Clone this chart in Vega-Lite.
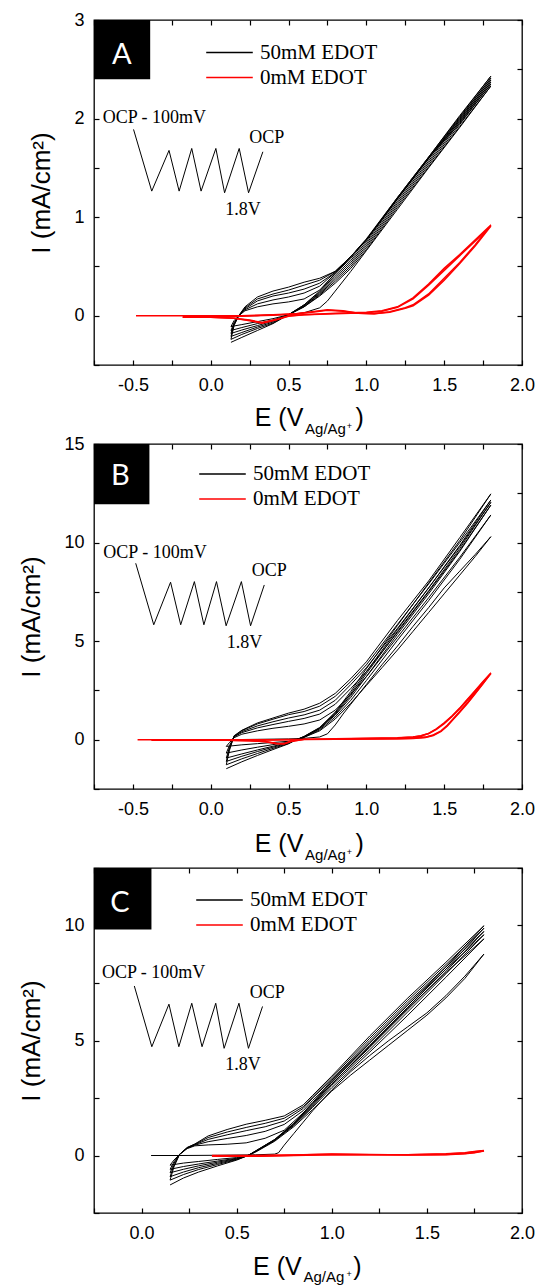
{
"$schema":"https://vega.github.io/schema/vega-lite/v6.json",
"background":"white",
"padding":{"left":18,"top":10,"right":0,"bottom":0},
"bounds":"flush",
"spacing":79,
"resolve":{"scale":{"color":"independent"},"legend":{"color":"independent"}},
"config":{
"font":"Liberation Sans",
"view":{"stroke":"#000000","strokeWidth":1.3},
"axis":{"grid":false,"domain":false,"tickColor":"#000000","tickWidth":1.2,"tickSize":-5,"labelFont":"Liberation Sans","labelFontSize":18,"labelColor":"#000000","labelFlush":false,"labelOverlap":false,"titleFont":"Liberation Sans","titleFontSize":26,"titleFontWeight":"normal","titleColor":"#000000","titlePadding":19},
"axisBottom":{"labelPadding":16},
"axisLeft":{"labelPadding":15},
"legend":{"title":null,"symbolType":"M-1.75,0H1.75","symbolSize":708,"symbolStrokeWidth":1.4,"labelFont":"Liberation Serif","labelFontSize":21,"labelColor":"#000000","labelOffset":16,"rowPadding":0,"padding":0,"labelLimit":300}
},
"datasets":{
"A_cv":[
{"s":"50mM EDOT","c":1,"E":0.2,"I":0},{"s":"50mM EDOT","c":1,"E":0.3,"I":0},{"s":"50mM EDOT","c":1,"E":0.4,"I":0.01},{"s":"50mM EDOT","c":1,"E":0.5,"I":0.01},{"s":"50mM EDOT","c":1,"E":0.6,"I":0.03},{"s":"50mM EDOT","c":1,"E":0.7,"I":0.08},{"s":"50mM EDOT","c":1,"E":0.75,"I":0.15},{"s":"50mM EDOT","c":1,"E":0.8,"I":0.25},{"s":"50mM EDOT","c":1,"E":0.9,"I":0.45},{"s":"50mM EDOT","c":1,"E":1.0,"I":0.66},{"s":"50mM EDOT","c":1,"E":1.2,"I":1.08},{"s":"50mM EDOT","c":1,"E":1.4,"I":1.5},{"s":"50mM EDOT","c":1,"E":1.6,"I":1.91},{"s":"50mM EDOT","c":1,"E":1.8,"I":2.33},
{"s":"50mM EDOT","c":1,"E":1.6,"I":1.92},{"s":"50mM EDOT","c":1,"E":1.4,"I":1.51},{"s":"50mM EDOT","c":1,"E":1.2,"I":1.1},{"s":"50mM EDOT","c":1,"E":1.0,"I":0.67},{"s":"50mM EDOT","c":1,"E":0.9,"I":0.48},{"s":"50mM EDOT","c":1,"E":0.8,"I":0.33},{"s":"50mM EDOT","c":1,"E":0.7,"I":0.2},{"s":"50mM EDOT","c":1,"E":0.6,"I":0.09},{"s":"50mM EDOT","c":1,"E":0.5,"I":0.01},{"s":"50mM EDOT","c":1,"E":0.4,"I":-0.03},{"s":"50mM EDOT","c":1,"E":0.3,"I":-0.06},{"s":"50mM EDOT","c":1,"E":0.2,"I":-0.09},{"s":"50mM EDOT","c":1,"E":0.13,"I":-0.11},
{"s":"50mM EDOT","c":2,"E":0.13,"I":-0.11},{"s":"50mM EDOT","c":2,"E":0.15,"I":-0.05},{"s":"50mM EDOT","c":2,"E":0.18,"I":0},{"s":"50mM EDOT","c":2,"E":0.22,"I":0.05},{"s":"50mM EDOT","c":2,"E":0.3,"I":0.09},{"s":"50mM EDOT","c":2,"E":0.4,"I":0.12},{"s":"50mM EDOT","c":2,"E":0.5,"I":0.14},{"s":"50mM EDOT","c":2,"E":0.6,"I":0.17},{"s":"50mM EDOT","c":2,"E":0.7,"I":0.26},{"s":"50mM EDOT","c":2,"E":0.8,"I":0.43},{"s":"50mM EDOT","c":2,"E":0.9,"I":0.6},{"s":"50mM EDOT","c":2,"E":1.0,"I":0.77},{"s":"50mM EDOT","c":2,"E":1.2,"I":1.19},{"s":"50mM EDOT","c":2,"E":1.4,"I":1.6},{"s":"50mM EDOT","c":2,"E":1.6,"I":1.95},{"s":"50mM EDOT","c":2,"E":1.8,"I":2.35},
{"s":"50mM EDOT","c":2,"E":1.6,"I":1.94},{"s":"50mM EDOT","c":2,"E":1.4,"I":1.53},{"s":"50mM EDOT","c":2,"E":1.2,"I":1.12},{"s":"50mM EDOT","c":2,"E":1.0,"I":0.69},{"s":"50mM EDOT","c":2,"E":0.9,"I":0.5},{"s":"50mM EDOT","c":2,"E":0.8,"I":0.35},{"s":"50mM EDOT","c":2,"E":0.7,"I":0.21},{"s":"50mM EDOT","c":2,"E":0.6,"I":0.09},{"s":"50mM EDOT","c":2,"E":0.5,"I":0.01},{"s":"50mM EDOT","c":2,"E":0.4,"I":-0.045},{"s":"50mM EDOT","c":2,"E":0.3,"I":-0.08},{"s":"50mM EDOT","c":2,"E":0.2,"I":-0.12},{"s":"50mM EDOT","c":2,"E":0.13,"I":-0.15},
{"s":"50mM EDOT","c":3,"E":0.13,"I":-0.15},{"s":"50mM EDOT","c":3,"E":0.15,"I":-0.07},{"s":"50mM EDOT","c":3,"E":0.18,"I":0},{"s":"50mM EDOT","c":3,"E":0.22,"I":0.06},{"s":"50mM EDOT","c":3,"E":0.3,"I":0.12},{"s":"50mM EDOT","c":3,"E":0.4,"I":0.16},{"s":"50mM EDOT","c":3,"E":0.5,"I":0.19},{"s":"50mM EDOT","c":3,"E":0.6,"I":0.23},{"s":"50mM EDOT","c":3,"E":0.7,"I":0.3},{"s":"50mM EDOT","c":3,"E":0.8,"I":0.44},{"s":"50mM EDOT","c":3,"E":0.9,"I":0.6},{"s":"50mM EDOT","c":3,"E":1.0,"I":0.77},{"s":"50mM EDOT","c":3,"E":1.2,"I":1.19},{"s":"50mM EDOT","c":3,"E":1.4,"I":1.6},{"s":"50mM EDOT","c":3,"E":1.6,"I":1.97},{"s":"50mM EDOT","c":3,"E":1.8,"I":2.37},
{"s":"50mM EDOT","c":3,"E":1.6,"I":1.96},{"s":"50mM EDOT","c":3,"E":1.4,"I":1.55},{"s":"50mM EDOT","c":3,"E":1.2,"I":1.14},{"s":"50mM EDOT","c":3,"E":1.0,"I":0.71},{"s":"50mM EDOT","c":3,"E":0.9,"I":0.52},{"s":"50mM EDOT","c":3,"E":0.8,"I":0.37},{"s":"50mM EDOT","c":3,"E":0.7,"I":0.22},{"s":"50mM EDOT","c":3,"E":0.6,"I":0.1},{"s":"50mM EDOT","c":3,"E":0.5,"I":0.01},{"s":"50mM EDOT","c":3,"E":0.4,"I":-0.055},{"s":"50mM EDOT","c":3,"E":0.3,"I":-0.1},{"s":"50mM EDOT","c":3,"E":0.2,"I":-0.145},{"s":"50mM EDOT","c":3,"E":0.13,"I":-0.18},
{"s":"50mM EDOT","c":4,"E":0.13,"I":-0.18},{"s":"50mM EDOT","c":4,"E":0.15,"I":-0.08},{"s":"50mM EDOT","c":4,"E":0.18,"I":0},{"s":"50mM EDOT","c":4,"E":0.22,"I":0.07},{"s":"50mM EDOT","c":4,"E":0.3,"I":0.15},{"s":"50mM EDOT","c":4,"E":0.4,"I":0.2},{"s":"50mM EDOT","c":4,"E":0.5,"I":0.23},{"s":"50mM EDOT","c":4,"E":0.6,"I":0.27},{"s":"50mM EDOT","c":4,"E":0.7,"I":0.33},{"s":"50mM EDOT","c":4,"E":0.8,"I":0.44},{"s":"50mM EDOT","c":4,"E":0.9,"I":0.6},{"s":"50mM EDOT","c":4,"E":1.0,"I":0.77},{"s":"50mM EDOT","c":4,"E":1.2,"I":1.19},{"s":"50mM EDOT","c":4,"E":1.4,"I":1.6},{"s":"50mM EDOT","c":4,"E":1.6,"I":1.99},{"s":"50mM EDOT","c":4,"E":1.8,"I":2.39},
{"s":"50mM EDOT","c":4,"E":1.6,"I":1.98},{"s":"50mM EDOT","c":4,"E":1.4,"I":1.57},{"s":"50mM EDOT","c":4,"E":1.2,"I":1.16},{"s":"50mM EDOT","c":4,"E":1.0,"I":0.73},{"s":"50mM EDOT","c":4,"E":0.9,"I":0.54},{"s":"50mM EDOT","c":4,"E":0.8,"I":0.39},{"s":"50mM EDOT","c":4,"E":0.7,"I":0.23},{"s":"50mM EDOT","c":4,"E":0.6,"I":0.1},{"s":"50mM EDOT","c":4,"E":0.5,"I":0.01},{"s":"50mM EDOT","c":4,"E":0.4,"I":-0.065},{"s":"50mM EDOT","c":4,"E":0.3,"I":-0.115},{"s":"50mM EDOT","c":4,"E":0.2,"I":-0.17},{"s":"50mM EDOT","c":4,"E":0.13,"I":-0.21},
{"s":"50mM EDOT","c":5,"E":0.13,"I":-0.21},{"s":"50mM EDOT","c":5,"E":0.15,"I":-0.09},{"s":"50mM EDOT","c":5,"E":0.18,"I":0},{"s":"50mM EDOT","c":5,"E":0.22,"I":0.08},{"s":"50mM EDOT","c":5,"E":0.3,"I":0.17},{"s":"50mM EDOT","c":5,"E":0.4,"I":0.22},{"s":"50mM EDOT","c":5,"E":0.5,"I":0.26},{"s":"50mM EDOT","c":5,"E":0.6,"I":0.31},{"s":"50mM EDOT","c":5,"E":0.7,"I":0.36},{"s":"50mM EDOT","c":5,"E":0.8,"I":0.45},{"s":"50mM EDOT","c":5,"E":0.9,"I":0.6},{"s":"50mM EDOT","c":5,"E":1.0,"I":0.77},{"s":"50mM EDOT","c":5,"E":1.2,"I":1.19},{"s":"50mM EDOT","c":5,"E":1.4,"I":1.6},{"s":"50mM EDOT","c":5,"E":1.6,"I":2.01},{"s":"50mM EDOT","c":5,"E":1.8,"I":2.41},
{"s":"50mM EDOT","c":5,"E":1.6,"I":2.0},{"s":"50mM EDOT","c":5,"E":1.4,"I":1.59},{"s":"50mM EDOT","c":5,"E":1.2,"I":1.18},{"s":"50mM EDOT","c":5,"E":1.0,"I":0.75},{"s":"50mM EDOT","c":5,"E":0.9,"I":0.56},{"s":"50mM EDOT","c":5,"E":0.8,"I":0.41},{"s":"50mM EDOT","c":5,"E":0.7,"I":0.24},{"s":"50mM EDOT","c":5,"E":0.6,"I":0.11},{"s":"50mM EDOT","c":5,"E":0.5,"I":0.01},{"s":"50mM EDOT","c":5,"E":0.4,"I":-0.075},{"s":"50mM EDOT","c":5,"E":0.3,"I":-0.13},{"s":"50mM EDOT","c":5,"E":0.2,"I":-0.19},{"s":"50mM EDOT","c":5,"E":0.13,"I":-0.24},
{"s":"50mM EDOT","c":6,"E":0.13,"I":-0.24},{"s":"50mM EDOT","c":6,"E":0.15,"I":-0.1},{"s":"50mM EDOT","c":6,"E":0.18,"I":0},{"s":"50mM EDOT","c":6,"E":0.22,"I":0.09},{"s":"50mM EDOT","c":6,"E":0.3,"I":0.19},{"s":"50mM EDOT","c":6,"E":0.4,"I":0.25},{"s":"50mM EDOT","c":6,"E":0.5,"I":0.29},{"s":"50mM EDOT","c":6,"E":0.6,"I":0.34},{"s":"50mM EDOT","c":6,"E":0.7,"I":0.38},{"s":"50mM EDOT","c":6,"E":0.8,"I":0.45},{"s":"50mM EDOT","c":6,"E":0.9,"I":0.6},{"s":"50mM EDOT","c":6,"E":1.0,"I":0.78},{"s":"50mM EDOT","c":6,"E":1.2,"I":1.2},{"s":"50mM EDOT","c":6,"E":1.4,"I":1.61},{"s":"50mM EDOT","c":6,"E":1.6,"I":2.03},{"s":"50mM EDOT","c":6,"E":1.8,"I":2.43},
{"s":"50mM EDOT","c":6,"E":1.6,"I":2.02},{"s":"50mM EDOT","c":6,"E":1.4,"I":1.61},{"s":"50mM EDOT","c":6,"E":1.2,"I":1.2},{"s":"50mM EDOT","c":6,"E":1.0,"I":0.77},{"s":"50mM EDOT","c":6,"E":0.9,"I":0.58},{"s":"50mM EDOT","c":6,"E":0.8,"I":0.43},{"s":"50mM EDOT","c":6,"E":0.7,"I":0.25},{"s":"50mM EDOT","c":6,"E":0.6,"I":0.11},{"s":"50mM EDOT","c":6,"E":0.5,"I":0.01},{"s":"50mM EDOT","c":6,"E":0.4,"I":-0.08},{"s":"50mM EDOT","c":6,"E":0.3,"I":-0.15},{"s":"50mM EDOT","c":6,"E":0.2,"I":-0.22},{"s":"50mM EDOT","c":6,"E":0.13,"I":-0.27},
{"s":"0mM EDOT","c":11,"E":-0.48,"I":0},{"s":"0mM EDOT","c":11,"E":-0.2,"I":0},{"s":"0mM EDOT","c":11,"E":0,"I":0},{"s":"0mM EDOT","c":11,"E":0.2,"I":0},{"s":"0mM EDOT","c":11,"E":0.4,"I":0.01},{"s":"0mM EDOT","c":11,"E":0.55,"I":0.02},{"s":"0mM EDOT","c":11,"E":0.65,"I":0.04},{"s":"0mM EDOT","c":11,"E":0.75,"I":0.06},{"s":"0mM EDOT","c":11,"E":0.85,"I":0.05},{"s":"0mM EDOT","c":11,"E":0.95,"I":0.025},{"s":"0mM EDOT","c":11,"E":1.05,"I":0.02},{"s":"0mM EDOT","c":11,"E":1.15,"I":0.04},{"s":"0mM EDOT","c":11,"E":1.25,"I":0.08},{"s":"0mM EDOT","c":11,"E":1.3,"I":0.11},{"s":"0mM EDOT","c":11,"E":1.4,"I":0.22},{"s":"0mM EDOT","c":11,"E":1.5,"I":0.38},{"s":"0mM EDOT","c":11,"E":1.6,"I":0.54},{"s":"0mM EDOT","c":11,"E":1.7,"I":0.72},{"s":"0mM EDOT","c":11,"E":1.8,"I":0.92},
{"s":"0mM EDOT","c":11,"E":1.7,"I":0.77},{"s":"0mM EDOT","c":11,"E":1.6,"I":0.62},{"s":"0mM EDOT","c":11,"E":1.5,"I":0.48},{"s":"0mM EDOT","c":11,"E":1.4,"I":0.32},{"s":"0mM EDOT","c":11,"E":1.3,"I":0.18},{"s":"0mM EDOT","c":11,"E":1.2,"I":0.09},{"s":"0mM EDOT","c":11,"E":1.1,"I":0.05},{"s":"0mM EDOT","c":11,"E":1.0,"I":0.035},{"s":"0mM EDOT","c":11,"E":0.8,"I":0.025},{"s":"0mM EDOT","c":11,"E":0.6,"I":0.01},{"s":"0mM EDOT","c":11,"E":0.5,"I":0},{"s":"0mM EDOT","c":11,"E":0.42,"I":-0.04},{"s":"0mM EDOT","c":11,"E":0.33,"I":-0.075},{"s":"0mM EDOT","c":11,"E":0.25,"I":-0.05},{"s":"0mM EDOT","c":11,"E":0.15,"I":-0.025},{"s":"0mM EDOT","c":11,"E":0,"I":-0.015},{"s":"0mM EDOT","c":11,"E":-0.18,"I":-0.015},
{"s":"0mM EDOT","c":12,"E":-0.18,"I":-0.015},{"s":"0mM EDOT","c":12,"E":0,"I":-0.01},{"s":"0mM EDOT","c":12,"E":0.2,"I":-0.005},{"s":"0mM EDOT","c":12,"E":0.4,"I":0.005},{"s":"0mM EDOT","c":12,"E":0.55,"I":0.02},{"s":"0mM EDOT","c":12,"E":0.65,"I":0.035},{"s":"0mM EDOT","c":12,"E":0.75,"I":0.055},{"s":"0mM EDOT","c":12,"E":0.85,"I":0.045},{"s":"0mM EDOT","c":12,"E":0.95,"I":0.025},{"s":"0mM EDOT","c":12,"E":1.05,"I":0.02},{"s":"0mM EDOT","c":12,"E":1.15,"I":0.035},{"s":"0mM EDOT","c":12,"E":1.25,"I":0.075},{"s":"0mM EDOT","c":12,"E":1.3,"I":0.1},{"s":"0mM EDOT","c":12,"E":1.4,"I":0.21},{"s":"0mM EDOT","c":12,"E":1.5,"I":0.36},{"s":"0mM EDOT","c":12,"E":1.6,"I":0.53},{"s":"0mM EDOT","c":12,"E":1.7,"I":0.71},{"s":"0mM EDOT","c":12,"E":1.8,"I":0.91},
{"s":"0mM EDOT","c":12,"E":1.7,"I":0.76},{"s":"0mM EDOT","c":12,"E":1.6,"I":0.61},{"s":"0mM EDOT","c":12,"E":1.5,"I":0.46},{"s":"0mM EDOT","c":12,"E":1.4,"I":0.31},{"s":"0mM EDOT","c":12,"E":1.3,"I":0.17},{"s":"0mM EDOT","c":12,"E":1.2,"I":0.085},{"s":"0mM EDOT","c":12,"E":1.1,"I":0.045},{"s":"0mM EDOT","c":12,"E":1.0,"I":0.03},{"s":"0mM EDOT","c":12,"E":0.8,"I":0.02},{"s":"0mM EDOT","c":12,"E":0.6,"I":0.01},{"s":"0mM EDOT","c":12,"E":0.5,"I":-0.005},{"s":"0mM EDOT","c":12,"E":0.42,"I":-0.04},{"s":"0mM EDOT","c":12,"E":0.33,"I":-0.07},{"s":"0mM EDOT","c":12,"E":0.25,"I":-0.045},{"s":"0mM EDOT","c":12,"E":0.15,"I":-0.025},{"s":"0mM EDOT","c":12,"E":0,"I":-0.015},{"s":"0mM EDOT","c":12,"E":-0.18,"I":-0.015}
],
"A_zz":[{"E":-0.496,"I":1.89},{"E":-0.379,"I":1.264},{"E":-0.268,"I":1.677},{"E":-0.203,"I":1.264},{"E":-0.122,"I":1.697},{"E":-0.062,"I":1.264},{"E":0.033,"I":1.697},{"E":0.089,"I":1.247},{"E":0.183,"I":1.697},{"E":0.243,"I":1.247},{"E":0.335,"I":1.663}],
"A_box":[{"E":-0.75,"E2":-0.389,"I":3,"I2":2.398}],
"A_tx":[{"k":"ins","E":-0.694,"I":1.957,"t":"OCP - 100mV"},{"k":"ins","E":0.248,"I":1.754,"t":"OCP"},{"k":"ins","E":0.093,"I":1.024,"t":"1.8V"},{"k":"let","E":-0.571,"I":2.556,"t":"A"},{"k":"tb","E":0.595,"I":-1.122,"t":"E (V"},{"k":"tb","E":0.983,"I":-1.122,"t":")"},{"k":"ts","E":0.606,"I":-1.2,"t":"Ag/Ag"},{"k":"tp","E":0.874,"I":-1.147,"t":"+"}],
"B_cv":[
{"s":"50mM EDOT","c":1,"E":0.1,"I":0},{"s":"50mM EDOT","c":1,"E":0.3,"I":0.02},{"s":"50mM EDOT","c":1,"E":0.5,"I":0.04},{"s":"50mM EDOT","c":1,"E":0.6,"I":0.07},{"s":"50mM EDOT","c":1,"E":0.7,"I":0.14},{"s":"50mM EDOT","c":1,"E":0.75,"I":0.3},{"s":"50mM EDOT","c":1,"E":0.8,"I":0.75},{"s":"50mM EDOT","c":1,"E":0.85,"I":1.3},{"s":"50mM EDOT","c":1,"E":0.9,"I":1.8},{"s":"50mM EDOT","c":1,"E":1.0,"I":2.8},{"s":"50mM EDOT","c":1,"E":1.1,"I":3.8},{"s":"50mM EDOT","c":1,"E":1.2,"I":4.75},{"s":"50mM EDOT","c":1,"E":1.3,"I":5.75},{"s":"50mM EDOT","c":1,"E":1.4,"I":6.7},{"s":"50mM EDOT","c":1,"E":1.5,"I":7.7},{"s":"50mM EDOT","c":1,"E":1.6,"I":8.55},{"s":"50mM EDOT","c":1,"E":1.7,"I":9.4},{"s":"50mM EDOT","c":1,"E":1.8,"I":10.3},
{"s":"50mM EDOT","c":1,"E":1.7,"I":9.3},{"s":"50mM EDOT","c":1,"E":1.6,"I":8.35},{"s":"50mM EDOT","c":1,"E":1.5,"I":7.4},{"s":"50mM EDOT","c":1,"E":1.4,"I":6.45},{"s":"50mM EDOT","c":1,"E":1.3,"I":5.5},{"s":"50mM EDOT","c":1,"E":1.2,"I":4.55},{"s":"50mM EDOT","c":1,"E":1.1,"I":3.65},{"s":"50mM EDOT","c":1,"E":1.0,"I":2.75},{"s":"50mM EDOT","c":1,"E":0.9,"I":1.85},{"s":"50mM EDOT","c":1,"E":0.8,"I":1.05},{"s":"50mM EDOT","c":1,"E":0.7,"I":0.45},{"s":"50mM EDOT","c":1,"E":0.6,"I":0.12},{"s":"50mM EDOT","c":1,"E":0.55,"I":0},{"s":"50mM EDOT","c":1,"E":0.5,"I":-0.08},{"s":"50mM EDOT","c":1,"E":0.4,"I":-0.14},{"s":"50mM EDOT","c":1,"E":0.3,"I":-0.2},{"s":"50mM EDOT","c":1,"E":0.2,"I":-0.26},{"s":"50mM EDOT","c":1,"E":0.1,"I":-0.34},
{"s":"50mM EDOT","c":2,"E":0.1,"I":-0.34},{"s":"50mM EDOT","c":2,"E":0.12,"I":-0.15},{"s":"50mM EDOT","c":2,"E":0.15,"I":0.1},{"s":"50mM EDOT","c":2,"E":0.2,"I":0.28},{"s":"50mM EDOT","c":2,"E":0.3,"I":0.45},{"s":"50mM EDOT","c":2,"E":0.4,"I":0.58},{"s":"50mM EDOT","c":2,"E":0.5,"I":0.68},{"s":"50mM EDOT","c":2,"E":0.6,"I":0.8},{"s":"50mM EDOT","c":2,"E":0.7,"I":1.0},{"s":"50mM EDOT","c":2,"E":0.8,"I":1.5},{"s":"50mM EDOT","c":2,"E":0.9,"I":2.3},{"s":"50mM EDOT","c":2,"E":1.0,"I":3.2},{"s":"50mM EDOT","c":2,"E":1.2,"I":5.2},{"s":"50mM EDOT","c":2,"E":1.4,"I":7.2},{"s":"50mM EDOT","c":2,"E":1.6,"I":9.25},{"s":"50mM EDOT","c":2,"E":1.8,"I":11.4},
{"s":"50mM EDOT","c":2,"E":1.6,"I":9.15},{"s":"50mM EDOT","c":2,"E":1.4,"I":7.05},{"s":"50mM EDOT","c":2,"E":1.2,"I":5.05},{"s":"50mM EDOT","c":2,"E":1.0,"I":3.0},{"s":"50mM EDOT","c":2,"E":0.9,"I":2.0},{"s":"50mM EDOT","c":2,"E":0.8,"I":1.15},{"s":"50mM EDOT","c":2,"E":0.7,"I":0.5},{"s":"50mM EDOT","c":2,"E":0.6,"I":0.13},{"s":"50mM EDOT","c":2,"E":0.55,"I":0},{"s":"50mM EDOT","c":2,"E":0.5,"I":-0.12},{"s":"50mM EDOT","c":2,"E":0.4,"I":-0.25},{"s":"50mM EDOT","c":2,"E":0.3,"I":-0.38},{"s":"50mM EDOT","c":2,"E":0.2,"I":-0.52},{"s":"50mM EDOT","c":2,"E":0.1,"I":-0.68},
{"s":"50mM EDOT","c":3,"E":0.1,"I":-0.68},{"s":"50mM EDOT","c":3,"E":0.12,"I":-0.3},{"s":"50mM EDOT","c":3,"E":0.15,"I":0.14},{"s":"50mM EDOT","c":3,"E":0.2,"I":0.36},{"s":"50mM EDOT","c":3,"E":0.3,"I":0.6},{"s":"50mM EDOT","c":3,"E":0.4,"I":0.77},{"s":"50mM EDOT","c":3,"E":0.5,"I":0.93},{"s":"50mM EDOT","c":3,"E":0.6,"I":1.08},{"s":"50mM EDOT","c":3,"E":0.7,"I":1.3},{"s":"50mM EDOT","c":3,"E":0.8,"I":1.8},{"s":"50mM EDOT","c":3,"E":0.9,"I":2.6},{"s":"50mM EDOT","c":3,"E":1.0,"I":3.45},{"s":"50mM EDOT","c":3,"E":1.2,"I":5.45},{"s":"50mM EDOT","c":3,"E":1.4,"I":7.5},{"s":"50mM EDOT","c":3,"E":1.6,"I":9.6},{"s":"50mM EDOT","c":3,"E":1.8,"I":11.9},
{"s":"50mM EDOT","c":3,"E":1.6,"I":9.55},{"s":"50mM EDOT","c":3,"E":1.4,"I":7.4},{"s":"50mM EDOT","c":3,"E":1.2,"I":5.35},{"s":"50mM EDOT","c":3,"E":1.0,"I":3.2},{"s":"50mM EDOT","c":3,"E":0.9,"I":2.15},{"s":"50mM EDOT","c":3,"E":0.8,"I":1.25},{"s":"50mM EDOT","c":3,"E":0.7,"I":0.55},{"s":"50mM EDOT","c":3,"E":0.6,"I":0.14},{"s":"50mM EDOT","c":3,"E":0.55,"I":0},{"s":"50mM EDOT","c":3,"E":0.5,"I":-0.15},{"s":"50mM EDOT","c":3,"E":0.4,"I":-0.33},{"s":"50mM EDOT","c":3,"E":0.3,"I":-0.52},{"s":"50mM EDOT","c":3,"E":0.2,"I":-0.72},{"s":"50mM EDOT","c":3,"E":0.1,"I":-0.93},
{"s":"50mM EDOT","c":4,"E":0.1,"I":-0.93},{"s":"50mM EDOT","c":4,"E":0.12,"I":-0.4},{"s":"50mM EDOT","c":4,"E":0.15,"I":0.16},{"s":"50mM EDOT","c":4,"E":0.2,"I":0.41},{"s":"50mM EDOT","c":4,"E":0.3,"I":0.7},{"s":"50mM EDOT","c":4,"E":0.4,"I":0.91},{"s":"50mM EDOT","c":4,"E":0.5,"I":1.1},{"s":"50mM EDOT","c":4,"E":0.6,"I":1.26},{"s":"50mM EDOT","c":4,"E":0.7,"I":1.5},{"s":"50mM EDOT","c":4,"E":0.8,"I":2.0},{"s":"50mM EDOT","c":4,"E":0.9,"I":2.8},{"s":"50mM EDOT","c":4,"E":1.0,"I":3.65},{"s":"50mM EDOT","c":4,"E":1.2,"I":5.65},{"s":"50mM EDOT","c":4,"E":1.4,"I":7.7},{"s":"50mM EDOT","c":4,"E":1.6,"I":9.8},{"s":"50mM EDOT","c":4,"E":1.8,"I":12.04},
{"s":"50mM EDOT","c":4,"E":1.6,"I":9.7},{"s":"50mM EDOT","c":4,"E":1.4,"I":7.55},{"s":"50mM EDOT","c":4,"E":1.2,"I":5.5},{"s":"50mM EDOT","c":4,"E":1.0,"I":3.35},{"s":"50mM EDOT","c":4,"E":0.9,"I":2.25},{"s":"50mM EDOT","c":4,"E":0.8,"I":1.3},{"s":"50mM EDOT","c":4,"E":0.7,"I":0.58},{"s":"50mM EDOT","c":4,"E":0.6,"I":0.15},{"s":"50mM EDOT","c":4,"E":0.55,"I":0},{"s":"50mM EDOT","c":4,"E":0.5,"I":-0.17},{"s":"50mM EDOT","c":4,"E":0.4,"I":-0.38},{"s":"50mM EDOT","c":4,"E":0.3,"I":-0.6},{"s":"50mM EDOT","c":4,"E":0.2,"I":-0.84},{"s":"50mM EDOT","c":4,"E":0.1,"I":-1.1},
{"s":"50mM EDOT","c":5,"E":0.1,"I":-1.1},{"s":"50mM EDOT","c":5,"E":0.12,"I":-0.48},{"s":"50mM EDOT","c":5,"E":0.15,"I":0.18},{"s":"50mM EDOT","c":5,"E":0.2,"I":0.46},{"s":"50mM EDOT","c":5,"E":0.3,"I":0.8},{"s":"50mM EDOT","c":5,"E":0.4,"I":1.04},{"s":"50mM EDOT","c":5,"E":0.5,"I":1.27},{"s":"50mM EDOT","c":5,"E":0.6,"I":1.43},{"s":"50mM EDOT","c":5,"E":0.7,"I":1.7},{"s":"50mM EDOT","c":5,"E":0.8,"I":2.2},{"s":"50mM EDOT","c":5,"E":0.9,"I":2.95},{"s":"50mM EDOT","c":5,"E":1.0,"I":3.8},{"s":"50mM EDOT","c":5,"E":1.2,"I":5.85},{"s":"50mM EDOT","c":5,"E":1.4,"I":7.9},{"s":"50mM EDOT","c":5,"E":1.6,"I":10.0},{"s":"50mM EDOT","c":5,"E":1.8,"I":12.16},
{"s":"50mM EDOT","c":5,"E":1.6,"I":9.85},{"s":"50mM EDOT","c":5,"E":1.4,"I":7.7},{"s":"50mM EDOT","c":5,"E":1.2,"I":5.6},{"s":"50mM EDOT","c":5,"E":1.0,"I":3.45},{"s":"50mM EDOT","c":5,"E":0.9,"I":2.35},{"s":"50mM EDOT","c":5,"E":0.8,"I":1.35},{"s":"50mM EDOT","c":5,"E":0.7,"I":0.6},{"s":"50mM EDOT","c":5,"E":0.6,"I":0.16},{"s":"50mM EDOT","c":5,"E":0.55,"I":0},{"s":"50mM EDOT","c":5,"E":0.5,"I":-0.19},{"s":"50mM EDOT","c":5,"E":0.4,"I":-0.44},{"s":"50mM EDOT","c":5,"E":0.3,"I":-0.7},{"s":"50mM EDOT","c":5,"E":0.2,"I":-0.97},{"s":"50mM EDOT","c":5,"E":0.1,"I":-1.27},
{"s":"50mM EDOT","c":6,"E":0.1,"I":-1.27},{"s":"50mM EDOT","c":6,"E":0.12,"I":-0.55},{"s":"50mM EDOT","c":6,"E":0.15,"I":0.2},{"s":"50mM EDOT","c":6,"E":0.2,"I":0.48},{"s":"50mM EDOT","c":6,"E":0.3,"I":0.85},{"s":"50mM EDOT","c":6,"E":0.4,"I":1.1},{"s":"50mM EDOT","c":6,"E":0.5,"I":1.35},{"s":"50mM EDOT","c":6,"E":0.6,"I":1.55},{"s":"50mM EDOT","c":6,"E":0.7,"I":1.85},{"s":"50mM EDOT","c":6,"E":0.8,"I":2.35},{"s":"50mM EDOT","c":6,"E":0.9,"I":3.1},{"s":"50mM EDOT","c":6,"E":1.0,"I":3.95},{"s":"50mM EDOT","c":6,"E":1.2,"I":6.05},{"s":"50mM EDOT","c":6,"E":1.4,"I":8.05},{"s":"50mM EDOT","c":6,"E":1.6,"I":10.25},{"s":"50mM EDOT","c":6,"E":1.8,"I":12.47},
{"s":"50mM EDOT","c":6,"E":1.6,"I":10.1},{"s":"50mM EDOT","c":6,"E":1.4,"I":7.95},{"s":"50mM EDOT","c":6,"E":1.2,"I":5.8},{"s":"50mM EDOT","c":6,"E":1.0,"I":3.6},{"s":"50mM EDOT","c":6,"E":0.9,"I":2.45},{"s":"50mM EDOT","c":6,"E":0.8,"I":1.4},{"s":"50mM EDOT","c":6,"E":0.7,"I":0.62},{"s":"50mM EDOT","c":6,"E":0.6,"I":0.17},{"s":"50mM EDOT","c":6,"E":0.55,"I":0},{"s":"50mM EDOT","c":6,"E":0.5,"I":-0.21},{"s":"50mM EDOT","c":6,"E":0.4,"I":-0.5},{"s":"50mM EDOT","c":6,"E":0.3,"I":-0.8},{"s":"50mM EDOT","c":6,"E":0.2,"I":-1.12},{"s":"50mM EDOT","c":6,"E":0.1,"I":-1.47},
{"s":"0mM EDOT","c":11,"E":-0.47,"I":0},{"s":"0mM EDOT","c":11,"E":0,"I":0},{"s":"0mM EDOT","c":11,"E":0.4,"I":0},{"s":"0mM EDOT","c":11,"E":0.6,"I":0.02},{"s":"0mM EDOT","c":11,"E":0.8,"I":0.03},{"s":"0mM EDOT","c":11,"E":1.0,"I":0.04},{"s":"0mM EDOT","c":11,"E":1.2,"I":0.05},{"s":"0mM EDOT","c":11,"E":1.3,"I":0.07},{"s":"0mM EDOT","c":11,"E":1.38,"I":0.12},{"s":"0mM EDOT","c":11,"E":1.43,"I":0.22},{"s":"0mM EDOT","c":11,"E":1.48,"I":0.42},{"s":"0mM EDOT","c":11,"E":1.52,"I":0.7},{"s":"0mM EDOT","c":11,"E":1.56,"I":1.05},{"s":"0mM EDOT","c":11,"E":1.6,"I":1.4},{"s":"0mM EDOT","c":11,"E":1.65,"I":1.85},{"s":"0mM EDOT","c":11,"E":1.7,"I":2.35},{"s":"0mM EDOT","c":11,"E":1.75,"I":2.85},{"s":"0mM EDOT","c":11,"E":1.8,"I":3.38},
{"s":"0mM EDOT","c":11,"E":1.75,"I":2.95},{"s":"0mM EDOT","c":11,"E":1.7,"I":2.5},{"s":"0mM EDOT","c":11,"E":1.65,"I":2.05},{"s":"0mM EDOT","c":11,"E":1.6,"I":1.6},{"s":"0mM EDOT","c":11,"E":1.55,"I":1.2},{"s":"0mM EDOT","c":11,"E":1.5,"I":0.85},{"s":"0mM EDOT","c":11,"E":1.45,"I":0.55},{"s":"0mM EDOT","c":11,"E":1.4,"I":0.32},{"s":"0mM EDOT","c":11,"E":1.35,"I":0.2},{"s":"0mM EDOT","c":11,"E":1.3,"I":0.14},{"s":"0mM EDOT","c":11,"E":1.2,"I":0.1},{"s":"0mM EDOT","c":11,"E":1.0,"I":0.07},{"s":"0mM EDOT","c":11,"E":0.8,"I":0.05},{"s":"0mM EDOT","c":11,"E":0.6,"I":0.02},{"s":"0mM EDOT","c":11,"E":0.52,"I":-0.08},{"s":"0mM EDOT","c":11,"E":0.47,"I":-0.22},{"s":"0mM EDOT","c":11,"E":0.42,"I":-0.2},{"s":"0mM EDOT","c":11,"E":0.35,"I":-0.1},{"s":"0mM EDOT","c":11,"E":0.25,"I":-0.05},{"s":"0mM EDOT","c":11,"E":0.1,"I":-0.03},{"s":"0mM EDOT","c":11,"E":-0.38,"I":-0.03},
{"s":"0mM EDOT","c":12,"E":-0.38,"I":-0.03},{"s":"0mM EDOT","c":12,"E":0,"I":-0.02},{"s":"0mM EDOT","c":12,"E":0.4,"I":-0.01},{"s":"0mM EDOT","c":12,"E":0.6,"I":0.01},{"s":"0mM EDOT","c":12,"E":0.8,"I":0.03},{"s":"0mM EDOT","c":12,"E":1.0,"I":0.04},{"s":"0mM EDOT","c":12,"E":1.2,"I":0.05},{"s":"0mM EDOT","c":12,"E":1.3,"I":0.08},{"s":"0mM EDOT","c":12,"E":1.38,"I":0.13},{"s":"0mM EDOT","c":12,"E":1.43,"I":0.24},{"s":"0mM EDOT","c":12,"E":1.48,"I":0.45},{"s":"0mM EDOT","c":12,"E":1.52,"I":0.73},{"s":"0mM EDOT","c":12,"E":1.56,"I":1.08},{"s":"0mM EDOT","c":12,"E":1.6,"I":1.43},{"s":"0mM EDOT","c":12,"E":1.65,"I":1.88},{"s":"0mM EDOT","c":12,"E":1.7,"I":2.37},{"s":"0mM EDOT","c":12,"E":1.75,"I":2.86},{"s":"0mM EDOT","c":12,"E":1.8,"I":3.36},
{"s":"0mM EDOT","c":12,"E":1.75,"I":2.92},{"s":"0mM EDOT","c":12,"E":1.7,"I":2.47},{"s":"0mM EDOT","c":12,"E":1.65,"I":2.02},{"s":"0mM EDOT","c":12,"E":1.6,"I":1.58},{"s":"0mM EDOT","c":12,"E":1.55,"I":1.18},{"s":"0mM EDOT","c":12,"E":1.5,"I":0.82},{"s":"0mM EDOT","c":12,"E":1.45,"I":0.53},{"s":"0mM EDOT","c":12,"E":1.4,"I":0.31},{"s":"0mM EDOT","c":12,"E":1.35,"I":0.19},{"s":"0mM EDOT","c":12,"E":1.3,"I":0.13},{"s":"0mM EDOT","c":12,"E":1.2,"I":0.09},{"s":"0mM EDOT","c":12,"E":1.0,"I":0.06},{"s":"0mM EDOT","c":12,"E":0.8,"I":0.04},{"s":"0mM EDOT","c":12,"E":0.6,"I":0.01},{"s":"0mM EDOT","c":12,"E":0.52,"I":-0.07},{"s":"0mM EDOT","c":12,"E":0.47,"I":-0.2},{"s":"0mM EDOT","c":12,"E":0.42,"I":-0.18},{"s":"0mM EDOT","c":12,"E":0.35,"I":-0.09},{"s":"0mM EDOT","c":12,"E":0.25,"I":-0.05},{"s":"0mM EDOT","c":12,"E":0.1,"I":-0.03},{"s":"0mM EDOT","c":12,"E":-0.38,"I":-0.03}
],
"B_zz":[{"E":-0.482,"I":8.95},{"E":-0.366,"I":5.83},{"E":-0.258,"I":7.99},{"E":-0.193,"I":5.83},{"E":-0.105,"I":8.02},{"E":-0.044,"I":5.83},{"E":0.037,"I":8.02},{"E":0.099,"I":5.78},{"E":0.197,"I":8.02},{"E":0.256,"I":5.78},{"E":0.344,"I":7.85}],
"B_box":[{"E":-0.75,"E2":-0.394,"I":15,"I2":11.94}],
"B_tx":[{"k":"ins","E":-0.69,"I":9.24,"t":"OCP - 100mV"},{"k":"ins","E":0.263,"I":8.28,"t":"OCP"},{"k":"ins","E":0.103,"I":4.65,"t":"1.8V"},{"k":"let","E":-0.58,"I":12.92,"t":"B"},{"k":"tb","E":0.595,"I":-5.72,"t":"E (V"},{"k":"tb","E":0.983,"I":-5.72,"t":")"},{"k":"ts","E":0.606,"I":-6.11,"t":"Ag/Ag"},{"k":"tp","E":0.874,"I":-5.85,"t":"+"}],
"C_cv":[
{"s":"50mM EDOT","c":1,"E":0.05,"I":0},{"s":"50mM EDOT","c":1,"E":0.2,"I":0},{"s":"50mM EDOT","c":1,"E":0.4,"I":0.01},{"s":"50mM EDOT","c":1,"E":0.6,"I":0.03},{"s":"50mM EDOT","c":1,"E":0.7,"I":0.06},{"s":"50mM EDOT","c":1,"E":0.72,"I":0.12},{"s":"50mM EDOT","c":1,"E":0.75,"I":0.45},{"s":"50mM EDOT","c":1,"E":0.8,"I":0.95},{"s":"50mM EDOT","c":1,"E":0.85,"I":1.45},{"s":"50mM EDOT","c":1,"E":0.9,"I":1.95},{"s":"50mM EDOT","c":1,"E":1.0,"I":2.85},{"s":"50mM EDOT","c":1,"E":1.1,"I":3.65},{"s":"50mM EDOT","c":1,"E":1.2,"I":4.35},{"s":"50mM EDOT","c":1,"E":1.3,"I":5.0},{"s":"50mM EDOT","c":1,"E":1.4,"I":5.6},{"s":"50mM EDOT","c":1,"E":1.5,"I":6.2},{"s":"50mM EDOT","c":1,"E":1.6,"I":6.95},{"s":"50mM EDOT","c":1,"E":1.7,"I":7.8},{"s":"50mM EDOT","c":1,"E":1.8,"I":8.76},
{"s":"50mM EDOT","c":1,"E":1.7,"I":7.7},{"s":"50mM EDOT","c":1,"E":1.6,"I":6.85},{"s":"50mM EDOT","c":1,"E":1.5,"I":6.1},{"s":"50mM EDOT","c":1,"E":1.4,"I":5.45},{"s":"50mM EDOT","c":1,"E":1.3,"I":4.8},{"s":"50mM EDOT","c":1,"E":1.2,"I":4.15},{"s":"50mM EDOT","c":1,"E":1.1,"I":3.5},{"s":"50mM EDOT","c":1,"E":1.0,"I":2.8},{"s":"50mM EDOT","c":1,"E":0.9,"I":2.0},{"s":"50mM EDOT","c":1,"E":0.8,"I":1.25},{"s":"50mM EDOT","c":1,"E":0.7,"I":0.62},{"s":"50mM EDOT","c":1,"E":0.6,"I":0.15},{"s":"50mM EDOT","c":1,"E":0.56,"I":0},{"s":"50mM EDOT","c":1,"E":0.5,"I":-0.09},{"s":"50mM EDOT","c":1,"E":0.4,"I":-0.17},{"s":"50mM EDOT","c":1,"E":0.3,"I":-0.26},{"s":"50mM EDOT","c":1,"E":0.22,"I":-0.33},{"s":"50mM EDOT","c":1,"E":0.15,"I":-0.42},
{"s":"50mM EDOT","c":2,"E":0.15,"I":-0.42},{"s":"50mM EDOT","c":2,"E":0.17,"I":-0.2},{"s":"50mM EDOT","c":2,"E":0.2,"I":0.05},{"s":"50mM EDOT","c":2,"E":0.24,"I":0.3},{"s":"50mM EDOT","c":2,"E":0.28,"I":0.42},{"s":"50mM EDOT","c":2,"E":0.35,"I":0.46},{"s":"50mM EDOT","c":2,"E":0.45,"I":0.49},{"s":"50mM EDOT","c":2,"E":0.55,"I":0.55},{"s":"50mM EDOT","c":2,"E":0.65,"I":0.75},{"s":"50mM EDOT","c":2,"E":0.75,"I":1.1},{"s":"50mM EDOT","c":2,"E":0.85,"I":1.85},{"s":"50mM EDOT","c":2,"E":0.9,"I":2.3},{"s":"50mM EDOT","c":2,"E":1.0,"I":3.1},{"s":"50mM EDOT","c":2,"E":1.2,"I":4.75},{"s":"50mM EDOT","c":2,"E":1.4,"I":6.4},{"s":"50mM EDOT","c":2,"E":1.6,"I":7.95},{"s":"50mM EDOT","c":2,"E":1.8,"I":9.42},
{"s":"50mM EDOT","c":2,"E":1.6,"I":7.75},{"s":"50mM EDOT","c":2,"E":1.4,"I":6.1},{"s":"50mM EDOT","c":2,"E":1.2,"I":4.5},{"s":"50mM EDOT","c":2,"E":1.0,"I":2.95},{"s":"50mM EDOT","c":2,"E":0.9,"I":2.1},{"s":"50mM EDOT","c":2,"E":0.8,"I":1.3},{"s":"50mM EDOT","c":2,"E":0.7,"I":0.65},{"s":"50mM EDOT","c":2,"E":0.6,"I":0.17},{"s":"50mM EDOT","c":2,"E":0.56,"I":0},{"s":"50mM EDOT","c":2,"E":0.5,"I":-0.12},{"s":"50mM EDOT","c":2,"E":0.4,"I":-0.24},{"s":"50mM EDOT","c":2,"E":0.3,"I":-0.37},{"s":"50mM EDOT","c":2,"E":0.22,"I":-0.48},{"s":"50mM EDOT","c":2,"E":0.15,"I":-0.6},
{"s":"50mM EDOT","c":3,"E":0.15,"I":-0.6},{"s":"50mM EDOT","c":3,"E":0.17,"I":-0.28},{"s":"50mM EDOT","c":3,"E":0.2,"I":0.05},{"s":"50mM EDOT","c":3,"E":0.24,"I":0.32},{"s":"50mM EDOT","c":3,"E":0.28,"I":0.45},{"s":"50mM EDOT","c":3,"E":0.35,"I":0.6},{"s":"50mM EDOT","c":3,"E":0.45,"I":0.74},{"s":"50mM EDOT","c":3,"E":0.55,"I":0.87},{"s":"50mM EDOT","c":3,"E":0.65,"I":1.05},{"s":"50mM EDOT","c":3,"E":0.75,"I":1.35},{"s":"50mM EDOT","c":3,"E":0.85,"I":1.95},{"s":"50mM EDOT","c":3,"E":0.9,"I":2.4},{"s":"50mM EDOT","c":3,"E":1.0,"I":3.2},{"s":"50mM EDOT","c":3,"E":1.2,"I":4.9},{"s":"50mM EDOT","c":3,"E":1.4,"I":6.55},{"s":"50mM EDOT","c":3,"E":1.6,"I":8.1},{"s":"50mM EDOT","c":3,"E":1.8,"I":9.6},
{"s":"50mM EDOT","c":3,"E":1.6,"I":7.9},{"s":"50mM EDOT","c":3,"E":1.4,"I":6.25},{"s":"50mM EDOT","c":3,"E":1.2,"I":4.6},{"s":"50mM EDOT","c":3,"E":1.0,"I":3.05},{"s":"50mM EDOT","c":3,"E":0.9,"I":2.15},{"s":"50mM EDOT","c":3,"E":0.8,"I":1.33},{"s":"50mM EDOT","c":3,"E":0.7,"I":0.67},{"s":"50mM EDOT","c":3,"E":0.6,"I":0.18},{"s":"50mM EDOT","c":3,"E":0.56,"I":0},{"s":"50mM EDOT","c":3,"E":0.5,"I":-0.14},{"s":"50mM EDOT","c":3,"E":0.4,"I":-0.29},{"s":"50mM EDOT","c":3,"E":0.3,"I":-0.45},{"s":"50mM EDOT","c":3,"E":0.22,"I":-0.6},{"s":"50mM EDOT","c":3,"E":0.15,"I":-0.75},
{"s":"50mM EDOT","c":4,"E":0.15,"I":-0.75},{"s":"50mM EDOT","c":4,"E":0.17,"I":-0.35},{"s":"50mM EDOT","c":4,"E":0.2,"I":0.05},{"s":"50mM EDOT","c":4,"E":0.24,"I":0.33},{"s":"50mM EDOT","c":4,"E":0.28,"I":0.47},{"s":"50mM EDOT","c":4,"E":0.35,"I":0.7},{"s":"50mM EDOT","c":4,"E":0.45,"I":0.9},{"s":"50mM EDOT","c":4,"E":0.55,"I":1.08},{"s":"50mM EDOT","c":4,"E":0.65,"I":1.25},{"s":"50mM EDOT","c":4,"E":0.75,"I":1.5},{"s":"50mM EDOT","c":4,"E":0.85,"I":2.05},{"s":"50mM EDOT","c":4,"E":0.9,"I":2.5},{"s":"50mM EDOT","c":4,"E":1.0,"I":3.3},{"s":"50mM EDOT","c":4,"E":1.2,"I":5.0},{"s":"50mM EDOT","c":4,"E":1.4,"I":6.65},{"s":"50mM EDOT","c":4,"E":1.6,"I":8.2},{"s":"50mM EDOT","c":4,"E":1.8,"I":9.74},
{"s":"50mM EDOT","c":4,"E":1.6,"I":8.0},{"s":"50mM EDOT","c":4,"E":1.4,"I":6.35},{"s":"50mM EDOT","c":4,"E":1.2,"I":4.7},{"s":"50mM EDOT","c":4,"E":1.0,"I":3.12},{"s":"50mM EDOT","c":4,"E":0.9,"I":2.2},{"s":"50mM EDOT","c":4,"E":0.8,"I":1.36},{"s":"50mM EDOT","c":4,"E":0.7,"I":0.68},{"s":"50mM EDOT","c":4,"E":0.6,"I":0.19},{"s":"50mM EDOT","c":4,"E":0.56,"I":0},{"s":"50mM EDOT","c":4,"E":0.5,"I":-0.16},{"s":"50mM EDOT","c":4,"E":0.4,"I":-0.34},{"s":"50mM EDOT","c":4,"E":0.3,"I":-0.53},{"s":"50mM EDOT","c":4,"E":0.22,"I":-0.72},{"s":"50mM EDOT","c":4,"E":0.15,"I":-0.92},
{"s":"50mM EDOT","c":5,"E":0.15,"I":-0.92},{"s":"50mM EDOT","c":5,"E":0.17,"I":-0.43},{"s":"50mM EDOT","c":5,"E":0.2,"I":0.05},{"s":"50mM EDOT","c":5,"E":0.24,"I":0.34},{"s":"50mM EDOT","c":5,"E":0.28,"I":0.49},{"s":"50mM EDOT","c":5,"E":0.35,"I":0.78},{"s":"50mM EDOT","c":5,"E":0.45,"I":1.02},{"s":"50mM EDOT","c":5,"E":0.55,"I":1.22},{"s":"50mM EDOT","c":5,"E":0.65,"I":1.4},{"s":"50mM EDOT","c":5,"E":0.75,"I":1.62},{"s":"50mM EDOT","c":5,"E":0.85,"I":2.12},{"s":"50mM EDOT","c":5,"E":0.9,"I":2.55},{"s":"50mM EDOT","c":5,"E":1.0,"I":3.38},{"s":"50mM EDOT","c":5,"E":1.2,"I":5.1},{"s":"50mM EDOT","c":5,"E":1.4,"I":6.75},{"s":"50mM EDOT","c":5,"E":1.6,"I":8.3},{"s":"50mM EDOT","c":5,"E":1.8,"I":9.88},
{"s":"50mM EDOT","c":5,"E":1.6,"I":8.1},{"s":"50mM EDOT","c":5,"E":1.4,"I":6.45},{"s":"50mM EDOT","c":5,"E":1.2,"I":4.8},{"s":"50mM EDOT","c":5,"E":1.0,"I":3.2},{"s":"50mM EDOT","c":5,"E":0.9,"I":2.25},{"s":"50mM EDOT","c":5,"E":0.8,"I":1.38},{"s":"50mM EDOT","c":5,"E":0.7,"I":0.69},{"s":"50mM EDOT","c":5,"E":0.6,"I":0.2},{"s":"50mM EDOT","c":5,"E":0.56,"I":0},{"s":"50mM EDOT","c":5,"E":0.5,"I":-0.18},{"s":"50mM EDOT","c":5,"E":0.4,"I":-0.39},{"s":"50mM EDOT","c":5,"E":0.3,"I":-0.61},{"s":"50mM EDOT","c":5,"E":0.22,"I":-0.83},{"s":"50mM EDOT","c":5,"E":0.15,"I":-1.07},
{"s":"50mM EDOT","c":6,"E":0.15,"I":-1.07},{"s":"50mM EDOT","c":6,"E":0.17,"I":-0.5},{"s":"50mM EDOT","c":6,"E":0.2,"I":0.05},{"s":"50mM EDOT","c":6,"E":0.24,"I":0.35},{"s":"50mM EDOT","c":6,"E":0.28,"I":0.5},{"s":"50mM EDOT","c":6,"E":0.35,"I":0.85},{"s":"50mM EDOT","c":6,"E":0.45,"I":1.13},{"s":"50mM EDOT","c":6,"E":0.55,"I":1.36},{"s":"50mM EDOT","c":6,"E":0.65,"I":1.53},{"s":"50mM EDOT","c":6,"E":0.75,"I":1.72},{"s":"50mM EDOT","c":6,"E":0.85,"I":2.2},{"s":"50mM EDOT","c":6,"E":0.9,"I":2.62},{"s":"50mM EDOT","c":6,"E":1.0,"I":3.45},{"s":"50mM EDOT","c":6,"E":1.2,"I":5.2},{"s":"50mM EDOT","c":6,"E":1.4,"I":6.85},{"s":"50mM EDOT","c":6,"E":1.6,"I":8.4},{"s":"50mM EDOT","c":6,"E":1.8,"I":9.99},
{"s":"50mM EDOT","c":6,"E":1.6,"I":8.2},{"s":"50mM EDOT","c":6,"E":1.4,"I":6.55},{"s":"50mM EDOT","c":6,"E":1.2,"I":4.9},{"s":"50mM EDOT","c":6,"E":1.0,"I":3.27},{"s":"50mM EDOT","c":6,"E":0.9,"I":2.3},{"s":"50mM EDOT","c":6,"E":0.8,"I":1.4},{"s":"50mM EDOT","c":6,"E":0.7,"I":0.7},{"s":"50mM EDOT","c":6,"E":0.6,"I":0.2},{"s":"50mM EDOT","c":6,"E":0.56,"I":0},{"s":"50mM EDOT","c":6,"E":0.5,"I":-0.2},{"s":"50mM EDOT","c":6,"E":0.4,"I":-0.45},{"s":"50mM EDOT","c":6,"E":0.3,"I":-0.72},{"s":"50mM EDOT","c":6,"E":0.22,"I":-0.98},{"s":"50mM EDOT","c":6,"E":0.15,"I":-1.28},
{"s":"0mM EDOT","c":11,"E":0.37,"I":0},{"s":"0mM EDOT","c":11,"E":0.6,"I":0},{"s":"0mM EDOT","c":11,"E":0.8,"I":0.02},{"s":"0mM EDOT","c":11,"E":1.0,"I":0.05},{"s":"0mM EDOT","c":11,"E":1.2,"I":0.03},{"s":"0mM EDOT","c":11,"E":1.4,"I":0.02},{"s":"0mM EDOT","c":11,"E":1.6,"I":0.04},{"s":"0mM EDOT","c":11,"E":1.7,"I":0.08},{"s":"0mM EDOT","c":11,"E":1.75,"I":0.12},{"s":"0mM EDOT","c":11,"E":1.8,"I":0.2},
{"s":"0mM EDOT","c":11,"E":1.75,"I":0.16},{"s":"0mM EDOT","c":11,"E":1.7,"I":0.11},{"s":"0mM EDOT","c":11,"E":1.6,"I":0.06},{"s":"0mM EDOT","c":11,"E":1.4,"I":0.03},{"s":"0mM EDOT","c":11,"E":1.2,"I":0.03},{"s":"0mM EDOT","c":11,"E":1.0,"I":0.04},{"s":"0mM EDOT","c":11,"E":0.8,"I":0},{"s":"0mM EDOT","c":11,"E":0.6,"I":-0.03},{"s":"0mM EDOT","c":11,"E":0.45,"I":-0.03},{"s":"0mM EDOT","c":11,"E":0.37,"I":-0.02},
{"s":"0mM EDOT","c":12,"E":0.37,"I":-0.02},{"s":"0mM EDOT","c":12,"E":0.6,"I":-0.01},{"s":"0mM EDOT","c":12,"E":0.8,"I":0.02},{"s":"0mM EDOT","c":12,"E":1.0,"I":0.06},{"s":"0mM EDOT","c":12,"E":1.2,"I":0.04},{"s":"0mM EDOT","c":12,"E":1.4,"I":0.02},{"s":"0mM EDOT","c":12,"E":1.6,"I":0.05},{"s":"0mM EDOT","c":12,"E":1.7,"I":0.09},{"s":"0mM EDOT","c":12,"E":1.75,"I":0.13},{"s":"0mM EDOT","c":12,"E":1.8,"I":0.21},
{"s":"0mM EDOT","c":12,"E":1.75,"I":0.17},{"s":"0mM EDOT","c":12,"E":1.7,"I":0.12},{"s":"0mM EDOT","c":12,"E":1.6,"I":0.07},{"s":"0mM EDOT","c":12,"E":1.4,"I":0.03},{"s":"0mM EDOT","c":12,"E":1.2,"I":0.03},{"s":"0mM EDOT","c":12,"E":1.0,"I":0.05},{"s":"0mM EDOT","c":12,"E":0.8,"I":0.01},{"s":"0mM EDOT","c":12,"E":0.6,"I":-0.03},{"s":"0mM EDOT","c":12,"E":0.45,"I":-0.03},{"s":"0mM EDOT","c":12,"E":0.37,"I":-0.02}
],
"C_zz":[{"E":-0.038,"I":7.37},{"E":0.054,"I":4.73},{"E":0.144,"I":6.58},{"E":0.196,"I":4.73},{"E":0.264,"I":6.62},{"E":0.318,"I":4.73},{"E":0.39,"I":6.62},{"E":0.434,"I":4.66},{"E":0.512,"I":6.62},{"E":0.562,"I":4.66},{"E":0.636,"I":6.48}],
"C_box":[{"E":-0.25,"E2":0.052,"I":12.5,"I2":9.83}],
"C_tx":[{"k":"ins","E":-0.208,"I":7.71,"t":"OCP - 100mV"},{"k":"ins","E":0.569,"I":6.84,"t":"OCP"},{"k":"ins","E":0.44,"I":3.72,"t":"1.8V"},{"k":"let","E":-0.113,"I":10.6,"t":"C"},{"k":"tb","E":0.842,"I":-5.183,"t":"E (V"},{"k":"tb","E":1.157,"I":-5.183,"t":")"},{"k":"ts","E":0.851,"I":-5.517,"t":"Ag/Ag"},{"k":"tp","E":1.078,"I":-5.291,"t":"+"}]
},
"vconcat":[
{"width":428,"height":345,"resolve":{"axis":{"x":"independent","y":"independent"}},
"layer":[
{"data":{"name":"A_box"},"mark":{"type":"rect","color":"#000000"},"encoding":{"x":{"field":"E","type":"quantitative","scale":{"domain":[-0.75,2],"nice":false,"zero":false},"axis":null},"x2":{"field":"E2"},"y":{"field":"I","type":"quantitative","scale":{"domain":[-0.5,3],"nice":false,"zero":false},"axis":null},"y2":{"field":"I2"}}},
{"data":{"name":"A_tx"},"transform":[{"filter":"datum.k === 'let'"}],"mark":{"type":"text","font":"Lato","fontSize":29,"color":"#ffffff","align":"center","baseline":"alphabetic"},"encoding":{"x":{"field":"E","type":"quantitative","scale":{"domain":[-0.75,2],"nice":false,"zero":false},"axis":null},"y":{"field":"I","type":"quantitative","scale":{"domain":[-0.5,3],"nice":false,"zero":false},"axis":null},"text":{"field":"t"}}},
{"data":{"name":"A_tx"},"transform":[{"filter":"datum.k === 'ins'"}],"mark":{"type":"text","font":"Liberation Serif","fontSize":18,"color":"#000000","align":"left","baseline":"alphabetic"},"encoding":{"x":{"field":"E","type":"quantitative","scale":{"domain":[-0.75,2],"nice":false,"zero":false},"axis":null},"y":{"field":"I","type":"quantitative","scale":{"domain":[-0.5,3],"nice":false,"zero":false},"axis":null},"text":{"field":"t"}}},
{"data":{"name":"A_tx"},"transform":[{"filter":"datum.k === 'tb'"}],"mark":{"type":"text","font":"Liberation Sans","fontSize":25,"color":"#000000","align":"right","baseline":"alphabetic"},"encoding":{"x":{"field":"E","type":"quantitative","scale":{"domain":[-0.75,2],"nice":false,"zero":false},"axis":null},"y":{"field":"I","type":"quantitative","scale":{"domain":[-0.5,3],"nice":false,"zero":false},"axis":null},"text":{"field":"t"}}},
{"data":{"name":"A_tx"},"transform":[{"filter":"datum.k === 'ts'"}],"mark":{"type":"text","font":"Liberation Sans","fontSize":15,"color":"#000000","align":"left","baseline":"alphabetic"},"encoding":{"x":{"field":"E","type":"quantitative","scale":{"domain":[-0.75,2],"nice":false,"zero":false},"axis":null},"y":{"field":"I","type":"quantitative","scale":{"domain":[-0.5,3],"nice":false,"zero":false},"axis":null},"text":{"field":"t"}}},
{"data":{"name":"A_tx"},"transform":[{"filter":"datum.k === 'tp'"}],"mark":{"type":"text","font":"Liberation Sans","fontSize":9,"color":"#000000","align":"left","baseline":"alphabetic"},"encoding":{"x":{"field":"E","type":"quantitative","scale":{"domain":[-0.75,2],"nice":false,"zero":false},"axis":null},"y":{"field":"I","type":"quantitative","scale":{"domain":[-0.5,3],"nice":false,"zero":false},"axis":null},"text":{"field":"t"}}},
{"data":{"name":"A_zz"},"mark":{"type":"line","color":"#000000","strokeWidth":1},"encoding":{"x":{"field":"E","type":"quantitative","scale":{"domain":[-0.75,2],"nice":false,"zero":false},"axis":{"orient":"top","labels":false,"title":null,"values":[-0.75,-0.5,-0.25,0,0.25,0.5,0.75,1,1.25,1.5,1.75,2]}},"y":{"field":"I","type":"quantitative","scale":{"domain":[-0.5,3],"nice":false,"zero":false},"axis":{"orient":"right","labels":false,"title":null,"values":[-0.5,0,0.5,1,1.5,2,2.5,3]}},"order":{"value":null}}},
{"data":{"name":"A_cv"},"mark":{"type":"line"},"encoding":{"x":{"field":"E","type":"quantitative","scale":{"domain":[-0.75,2],"nice":false,"zero":false},"axis":{"orient":"bottom","title":null,"values":[-0.75,-0.5,-0.25,0,0.25,0.5,0.75,1,1.25,1.5,1.75,2],"labelExpr":"abs(datum.value*2 - round(datum.value*2)) < 0.001 ? replace(format(datum.value, '.1f'), '\u2212', '-') : ''"}},"y":{"field":"I","type":"quantitative","scale":{"domain":[-0.5,3],"nice":false,"zero":false},"axis":{"orient":"left","title":"I (mA/cm²)","values":[-0.5,0,0.5,1,1.5,2,2.5,3],"labelExpr":"abs(datum.value - round(datum.value)) < 0.001 ? format(datum.value, 'd') : ''"}},"color":{"field":"s","type":"nominal","scale":{"domain":["50mM EDOT","0mM EDOT"],"range":["#000000","#ff0000"]},"legend":{"orient":"none","legendX":121,"legendY":18}},"strokeWidth":{"condition":{"test":"datum.s === '0mM EDOT'","value":1.6},"value":1},"detail":{"field":"c"},"order":{"value":null}}}
]},
{"width":428,"height":345,"resolve":{"axis":{"x":"independent","y":"independent"}},
"layer":[
{"data":{"name":"B_box"},"mark":{"type":"rect","color":"#000000"},"encoding":{"x":{"field":"E","type":"quantitative","scale":{"domain":[-0.75,2],"nice":false,"zero":false},"axis":null},"x2":{"field":"E2"},"y":{"field":"I","type":"quantitative","scale":{"domain":[-2.5,15],"nice":false,"zero":false},"axis":null},"y2":{"field":"I2"}}},
{"data":{"name":"B_tx"},"transform":[{"filter":"datum.k === 'let'"}],"mark":{"type":"text","font":"Lato","fontSize":29,"color":"#ffffff","align":"center","baseline":"alphabetic"},"encoding":{"x":{"field":"E","type":"quantitative","scale":{"domain":[-0.75,2],"nice":false,"zero":false},"axis":null},"y":{"field":"I","type":"quantitative","scale":{"domain":[-2.5,15],"nice":false,"zero":false},"axis":null},"text":{"field":"t"}}},
{"data":{"name":"B_tx"},"transform":[{"filter":"datum.k === 'ins'"}],"mark":{"type":"text","font":"Liberation Serif","fontSize":18,"color":"#000000","align":"left","baseline":"alphabetic"},"encoding":{"x":{"field":"E","type":"quantitative","scale":{"domain":[-0.75,2],"nice":false,"zero":false},"axis":null},"y":{"field":"I","type":"quantitative","scale":{"domain":[-2.5,15],"nice":false,"zero":false},"axis":null},"text":{"field":"t"}}},
{"data":{"name":"B_tx"},"transform":[{"filter":"datum.k === 'tb'"}],"mark":{"type":"text","font":"Liberation Sans","fontSize":25,"color":"#000000","align":"right","baseline":"alphabetic"},"encoding":{"x":{"field":"E","type":"quantitative","scale":{"domain":[-0.75,2],"nice":false,"zero":false},"axis":null},"y":{"field":"I","type":"quantitative","scale":{"domain":[-2.5,15],"nice":false,"zero":false},"axis":null},"text":{"field":"t"}}},
{"data":{"name":"B_tx"},"transform":[{"filter":"datum.k === 'ts'"}],"mark":{"type":"text","font":"Liberation Sans","fontSize":15,"color":"#000000","align":"left","baseline":"alphabetic"},"encoding":{"x":{"field":"E","type":"quantitative","scale":{"domain":[-0.75,2],"nice":false,"zero":false},"axis":null},"y":{"field":"I","type":"quantitative","scale":{"domain":[-2.5,15],"nice":false,"zero":false},"axis":null},"text":{"field":"t"}}},
{"data":{"name":"B_tx"},"transform":[{"filter":"datum.k === 'tp'"}],"mark":{"type":"text","font":"Liberation Sans","fontSize":9,"color":"#000000","align":"left","baseline":"alphabetic"},"encoding":{"x":{"field":"E","type":"quantitative","scale":{"domain":[-0.75,2],"nice":false,"zero":false},"axis":null},"y":{"field":"I","type":"quantitative","scale":{"domain":[-2.5,15],"nice":false,"zero":false},"axis":null},"text":{"field":"t"}}},
{"data":{"name":"B_zz"},"mark":{"type":"line","color":"#000000","strokeWidth":1},"encoding":{"x":{"field":"E","type":"quantitative","scale":{"domain":[-0.75,2],"nice":false,"zero":false},"axis":{"orient":"top","labels":false,"title":null,"values":[-0.75,-0.5,-0.25,0,0.25,0.5,0.75,1,1.25,1.5,1.75,2]}},"y":{"field":"I","type":"quantitative","scale":{"domain":[-2.5,15],"nice":false,"zero":false},"axis":{"orient":"right","labels":false,"title":null,"values":[-2.5,0,2.5,5,7.5,10,12.5,15]}},"order":{"value":null}}},
{"data":{"name":"B_cv"},"mark":{"type":"line"},"encoding":{"x":{"field":"E","type":"quantitative","scale":{"domain":[-0.75,2],"nice":false,"zero":false},"axis":{"orient":"bottom","title":null,"values":[-0.75,-0.5,-0.25,0,0.25,0.5,0.75,1,1.25,1.5,1.75,2],"labelExpr":"abs(datum.value*2 - round(datum.value*2)) < 0.001 ? replace(format(datum.value, '.1f'), '\u2212', '-') : ''"}},"y":{"field":"I","type":"quantitative","scale":{"domain":[-2.5,15],"nice":false,"zero":false},"axis":{"orient":"left","title":"I (mA/cm²)","values":[-2.5,0,2.5,5,7.5,10,12.5,15],"labelExpr":"abs(datum.value/5 - round(datum.value/5)) < 0.001 ? format(datum.value, 'd') : ''"}},"color":{"field":"s","type":"nominal","scale":{"domain":["50mM EDOT","0mM EDOT"],"range":["#000000","#ff0000"]},"legend":{"orient":"none","legendX":114,"legendY":15.5}},"strokeWidth":{"condition":{"test":"datum.s === '0mM EDOT'","value":1.6},"value":1},"detail":{"field":"c"},"order":{"value":null}}}
]},
{"width":428,"height":345,"resolve":{"axis":{"x":"independent","y":"independent"}},
"layer":[
{"data":{"name":"C_box"},"mark":{"type":"rect","color":"#000000"},"encoding":{"x":{"field":"E","type":"quantitative","scale":{"domain":[-0.25,2],"nice":false,"zero":false},"axis":null},"x2":{"field":"E2"},"y":{"field":"I","type":"quantitative","scale":{"domain":[-2.5,12.5],"nice":false,"zero":false},"axis":null},"y2":{"field":"I2"}}},
{"data":{"name":"C_tx"},"transform":[{"filter":"datum.k === 'let'"}],"mark":{"type":"text","font":"Lato","fontSize":29,"color":"#ffffff","align":"center","baseline":"alphabetic"},"encoding":{"x":{"field":"E","type":"quantitative","scale":{"domain":[-0.25,2],"nice":false,"zero":false},"axis":null},"y":{"field":"I","type":"quantitative","scale":{"domain":[-2.5,12.5],"nice":false,"zero":false},"axis":null},"text":{"field":"t"}}},
{"data":{"name":"C_tx"},"transform":[{"filter":"datum.k === 'ins'"}],"mark":{"type":"text","font":"Liberation Serif","fontSize":18,"color":"#000000","align":"left","baseline":"alphabetic"},"encoding":{"x":{"field":"E","type":"quantitative","scale":{"domain":[-0.25,2],"nice":false,"zero":false},"axis":null},"y":{"field":"I","type":"quantitative","scale":{"domain":[-2.5,12.5],"nice":false,"zero":false},"axis":null},"text":{"field":"t"}}},
{"data":{"name":"C_tx"},"transform":[{"filter":"datum.k === 'tb'"}],"mark":{"type":"text","font":"Liberation Sans","fontSize":25,"color":"#000000","align":"right","baseline":"alphabetic"},"encoding":{"x":{"field":"E","type":"quantitative","scale":{"domain":[-0.25,2],"nice":false,"zero":false},"axis":null},"y":{"field":"I","type":"quantitative","scale":{"domain":[-2.5,12.5],"nice":false,"zero":false},"axis":null},"text":{"field":"t"}}},
{"data":{"name":"C_tx"},"transform":[{"filter":"datum.k === 'ts'"}],"mark":{"type":"text","font":"Liberation Sans","fontSize":15,"color":"#000000","align":"left","baseline":"alphabetic"},"encoding":{"x":{"field":"E","type":"quantitative","scale":{"domain":[-0.25,2],"nice":false,"zero":false},"axis":null},"y":{"field":"I","type":"quantitative","scale":{"domain":[-2.5,12.5],"nice":false,"zero":false},"axis":null},"text":{"field":"t"}}},
{"data":{"name":"C_tx"},"transform":[{"filter":"datum.k === 'tp'"}],"mark":{"type":"text","font":"Liberation Sans","fontSize":9,"color":"#000000","align":"left","baseline":"alphabetic"},"encoding":{"x":{"field":"E","type":"quantitative","scale":{"domain":[-0.25,2],"nice":false,"zero":false},"axis":null},"y":{"field":"I","type":"quantitative","scale":{"domain":[-2.5,12.5],"nice":false,"zero":false},"axis":null},"text":{"field":"t"}}},
{"data":{"name":"C_zz"},"mark":{"type":"line","color":"#000000","strokeWidth":1},"encoding":{"x":{"field":"E","type":"quantitative","scale":{"domain":[-0.25,2],"nice":false,"zero":false},"axis":{"orient":"top","labels":false,"title":null,"values":[-0.25,0,0.25,0.5,0.75,1,1.25,1.5,1.75,2]}},"y":{"field":"I","type":"quantitative","scale":{"domain":[-2.5,12.5],"nice":false,"zero":false},"axis":{"orient":"right","labels":false,"title":null,"values":[-2.5,0,2.5,5,7.5,10,12.5]}},"order":{"value":null}}},
{"data":{"name":"C_cv"},"mark":{"type":"line"},"encoding":{"x":{"field":"E","type":"quantitative","scale":{"domain":[-0.25,2],"nice":false,"zero":false},"axis":{"orient":"bottom","title":null,"values":[-0.25,0,0.25,0.5,0.75,1,1.25,1.5,1.75,2],"labelExpr":"abs(datum.value*2 - round(datum.value*2)) < 0.001 ? replace(format(datum.value, '.1f'), '\u2212', '-') : ''"}},"y":{"field":"I","type":"quantitative","scale":{"domain":[-2.5,12.5],"nice":false,"zero":false},"axis":{"orient":"left","title":"I (mA/cm²)","values":[-2.5,0,2.5,5,7.5,10,12.5],"labelExpr":"abs(datum.value/5 - round(datum.value/5)) < 0.001 ? format(datum.value, 'd') : ''"}},"color":{"field":"s","type":"nominal","scale":{"domain":["50mM EDOT","0mM EDOT"],"range":["#000000","#ff0000"]},"legend":{"orient":"none","legendX":111,"legendY":17.5}},"strokeWidth":{"condition":{"test":"datum.s === '0mM EDOT'","value":1.6},"value":1},"detail":{"field":"c"},"order":{"value":null}}}
]}
]
}
